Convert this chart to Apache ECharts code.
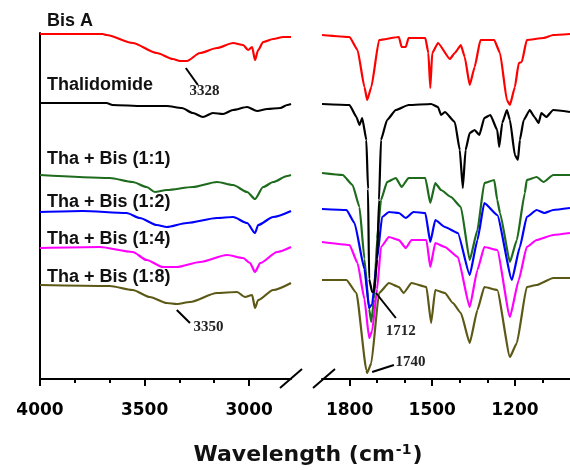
<!DOCTYPE html>
<html>
<head>
<meta charset="utf-8">
<title>FTIR</title>
<script src="https://cdn.jsdelivr.net/npm/echarts/dist/echarts.min.js"></script>
<style>
  html, body { margin: 0; padding: 0; background: #fff; }
  #chart { width: 570px; height: 470px; }
</style>
</head>
<body>
<div id="chart"></div>
<script>
// wavenumber (cm-1) / transmittance (a.u., stacked)
var bisLeft = [[4000,345],[3701,345],[3682,344],[3557,336],[3442,326],[3365,320],[3331,318],[3298,318],[3235,326],[3154,331],[3077,336],[3029,334],[3005,329],[2986,332],[2972,319],[2957,329],[2933,337],[2885,340],[2837,342],[2800,342]];
var bisRight = [[1900,344],[1800,342],[1771,329],[1746,292],[1736,279],[1721,292],[1693,339],[1621,342],[1611,332],[1596,332],[1586,341],[1525,341],[1514,326],[1507,291],[1500,326],[1479,336],[1436,320],[1418,326],[1396,334],[1382,322],[1364,294],[1346,312],[1325,339],[1275,339],[1254,326],[1229,279],[1218,274],[1200,292],[1186,316],[1175,317],[1157,339],[1096,341],[1061,344],[1000,345]];

var thaLeft = [[4000,276],[3682,276],[3653,274],[3509,273],[3394,273],[3322,271],[3269,266],[3221,262],[3173,266],[3125,265],[3077,269],[3010,272],[2962,268],[2914,270],[2851,271],[2818,274],[2800,275]];
var thaRight = [[1900,275],[1800,274],[1775,262],[1764,254],[1754,261],[1739,239],[1733,190],[1729,100],[1718,87],[1711,87],[1700,120],[1693,179],[1686,239],[1664,259],[1632,269],[1586,274],[1504,275],[1479,272],[1468,264],[1454,267],[1418,257],[1400,229],[1389,191],[1379,229],[1364,246],[1346,249],[1329,244],[1311,261],[1289,264],[1264,249],[1257,232],[1246,256],[1229,269],[1218,259],[1200,224],[1189,219],[1182,239],[1168,259],[1146,269],[1129,262],[1114,256],[1104,266],[1086,262],[1061,269],[1000,267]];

var mix11Left = [[4000,204],[3667,201],[3557,197],[3490,192],[3451,187],[3394,189],[3269,192],[3154,197],[3077,194],[3010,187],[2972,180],[2933,192],[2885,197],[2818,203],[2800,204]];
var mix11Right = [[1900,206],[1825,204],[1789,194],[1764,172],[1746,120],[1729,70],[1721,57],[1711,80],[1700,140],[1686,179],[1664,197],[1632,201],[1611,192],[1586,201],[1525,201],[1507,176],[1489,196],[1468,189],[1432,182],[1396,172],[1364,119],[1336,149],[1311,196],[1275,199],[1264,179],[1254,166],[1218,117],[1193,139],[1164,186],[1157,199],[1121,202],[1096,197],[1061,204],[1000,204]];

var mix12Left = [[4000,167],[3797,168],[3586,166],[3523,161],[3442,154],[3394,152],[3298,156],[3154,161],[3077,162],[3010,156],[2972,146],[2957,154],[2885,162],[2800,168]];
var mix12Right = [[1900,170],[1811,169],[1782,156],[1746,110],[1729,71],[1718,75],[1700,120],[1682,162],[1657,167],[1621,166],[1596,161],[1568,167],[1525,166],[1507,137],[1489,159],[1454,152],[1407,146],[1364,104],[1336,139],[1311,176],[1264,164],[1211,99],[1182,132],[1157,162],[1121,169],[1093,166],[1061,169],[1000,171]];

var mix14Left = [[4000,131],[3715,132],[3557,127],[3490,119],[3413,112],[3346,112],[3235,117],[3106,124],[3029,121],[2996,116],[2972,107],[2947,116],[2866,127],[2800,132]];
var mix14Right = [[1900,137],[1800,134],[1771,116],[1746,80],[1729,41],[1718,48],[1700,90],[1686,132],[1657,142],[1621,139],[1596,131],[1575,139],[1521,139],[1507,112],[1489,136],[1454,132],[1407,122],[1364,72],[1336,109],[1311,132],[1264,129],[1218,62],[1186,99],[1157,132],[1121,139],[1061,144],[1000,146]];

var mix18Left = [[4000,94],[3667,93],[3557,89],[3475,82],[3394,76],[3346,75],[3283,77],[3154,86],[3058,87],[3020,82],[2986,84],[2972,71],[2957,79],[2885,89],[2800,96]];
var mix18Right = [[1900,99],[1811,99],[1775,86],[1739,9],[1736,6],[1721,16],[1693,86],[1657,96],[1621,92],[1604,86],[1575,96],[1521,92],[1504,56],[1489,89],[1454,86],[1425,76],[1396,66],[1364,36],[1336,69],[1311,92],[1264,89],[1218,22],[1193,36],[1157,92],[1121,94],[1061,101],[1000,101]];

var names = ['Bis A', 'Thalidomide', 'Tha + Bis (1:1)', 'Tha + Bis (1:2)', 'Tha + Bis (1:4)', 'Tha + Bis (1:8)'];
var colors = ['#ff0000', '#000000', '#1e6b1e', '#0000ff', '#ff00ff', '#5c5816'];

var leftMajor = [4000, 3500, 3000];
var leftMinor = [3833, 3667, 3333, 3167];
var rightMajor = [1800, 1500, 1200];
var rightMinor = [1700, 1600, 1400, 1300, 1100];

// peak annotations: [label, leader start, leader end, text position]
var peakLeft = [
	['3328', [3303,311], [3245,294], [3214,288]],
	['3350', [3346,69], [3283,56], [3195,52]]
];
var peakRight = [
	['1712', [1704,86], [1632,61], [1614,48]],
	['1740', [1718,7], [1639,14], [1579,17]]
];

(function(){
	var chart = echarts.init(document.getElementById('chart'), null, {renderer: 'canvas'});
	var sans = 'DejaVu Sans';

	var mainAxis = function(grid, min, max, major){
		return {
			type: 'value', gridIndex: grid, min: min, max: max, inverse: true, position: 'bottom',
			axisLine: {show: true, onZero: false, lineStyle: {color: '#000', width: 2}},
			axisTick: {show: true, customValues: major, length: 7, lineStyle: {color: '#000', width: 2}},
			axisLabel: {show: true, customValues: major, margin: 23, color: '#000',
				fontFamily: sans, fontWeight: 'bold', fontSize: 17,
				formatter: function(v){ return String(v); }},
			splitLine: {show: false}
		};
	};
	var minorAxis = function(grid, min, max, minor){
		return {
			type: 'value', gridIndex: grid, min: min, max: max, inverse: true, position: 'bottom',
			axisLine: {show: false, onZero: false},
			axisTick: {show: true, customValues: minor, length: 4, lineStyle: {color: '#000', width: 2}},
			axisLabel: {show: false},
			splitLine: {show: false}
		};
	};

	var annot = function(list){
		return {
			markLine: {
				silent: true, symbol: ['none', 'none'], animation: false,
				lineStyle: {color: '#000', width: 2, type: 'solid'},
				label: {show: false},
				data: list.map(function(a){ return [{coord: a[1]}, {coord: a[2]}]; })
			},
			markPoint: {
				silent: true, symbol: 'circle', symbolSize: 1, animation: false,
				itemStyle: {color: 'rgba(0,0,0,0)'},
				label: {show: true, position: 'inside', color: '#222', fontFamily: 'Liberation Serif',
					fontWeight: 'bold', fontSize: 15, formatter: function(p){ return p.name; }},
				data: list.map(function(a){ return {name: a[0], coord: a[3]}; })
			}
		};
	};

	var series = [];
	var leftData = [bisLeft, thaLeft, mix11Left, mix12Left, mix14Left, mix18Left];
	var rightData = [bisRight, thaRight, mix11Right, mix12Right, mix14Right, mix18Right];
	var zOrder = [3, 4, 2, 2, 2, 2];
	for(var i = 0; i < names.length; i++){
		series.push({
			name: names[i], type: 'line', xAxisIndex: 0, yAxisIndex: 0, data: leftData[i],
			showSymbol: false, smooth: 0.25, smoothMonotone: 'x', z: zOrder[i],
			lineStyle: {color: colors[i], width: 2.2}
		});
		series.push({
			name: names[i], type: 'line', xAxisIndex: 2, yAxisIndex: 1, data: rightData[i],
			showSymbol: false, smooth: 0.15, smoothMonotone: 'x', z: zOrder[i],
			lineStyle: {color: colors[i], width: 2.2}
		});
	}
	// peak labels live on two empty carrier series, one per panel
	var tagLeft = {type: 'line', xAxisIndex: 0, yAxisIndex: 0, data: [], z: 5};
	var tagRight = {type: 'line', xAxisIndex: 2, yAxisIndex: 1, data: [], z: 5};
	Object.assign(tagLeft, annot(peakLeft));
	Object.assign(tagRight, annot(peakRight));
	series.push(tagLeft, tagRight);

	// sample names, stacked top to bottom
	var labelY = [21, 85, 159, 202, 239, 277];
	var graphics = names.map(function(n, i){
		return {type: 'text', left: 47, top: labelY[i] - 9,
			style: {text: n, fill: '#111', font: 'bold 18px "Liberation Sans"'}};
	});
	// axis break marks + axis title
	graphics.push(
		{type: 'line', shape: {x1: 280, y1: 388, x2: 302, y2: 369}, style: {stroke: '#000', lineWidth: 2}},
		{type: 'line', shape: {x1: 313, y1: 388, x2: 335, y2: 369}, style: {stroke: '#000', lineWidth: 2}},
		{type: 'text', x: 308, y: 455,
			style: {text: '{a|Wavelength (cm}{b|-1}{a|)}', align: 'center', verticalAlign: 'middle',
				rich: {
					a: {fontFamily: sans, fontWeight: 'bold', fontSize: 22, fill: '#111'},
					b: {fontFamily: sans, fontWeight: 'bold', fontSize: 14, fill: '#111', verticalAlign: 'top', padding: [0, 1, 10, 1]}
				}}}
	);

	chart.setOption({
		animation: false,
		backgroundColor: '#fff',
		grid: [
			{left: 40, top: 33, width: 251, height: 346},
			{left: 322, top: 33, width: 252, height: 346}
		],
		xAxis: [
			mainAxis(0, 2800, 4000, leftMajor),
			minorAxis(0, 2800, 4000, leftMinor),
			mainAxis(1, 1000, 1900, rightMajor),
			minorAxis(1, 1000, 1900, rightMinor)
		],
		yAxis: [
			{type: 'value', gridIndex: 0, min: 0, max: 346,
				axisLine: {show: true, onZero: false, lineStyle: {color: '#000', width: 2}},
				axisTick: {show: false}, axisLabel: {show: false}, splitLine: {show: false}},
			{type: 'value', gridIndex: 1, min: 0, max: 346, show: false, splitLine: {show: false}}
		],
		series: series,
		graphic: graphics
	});
})();
</script>
</body>
</html>
